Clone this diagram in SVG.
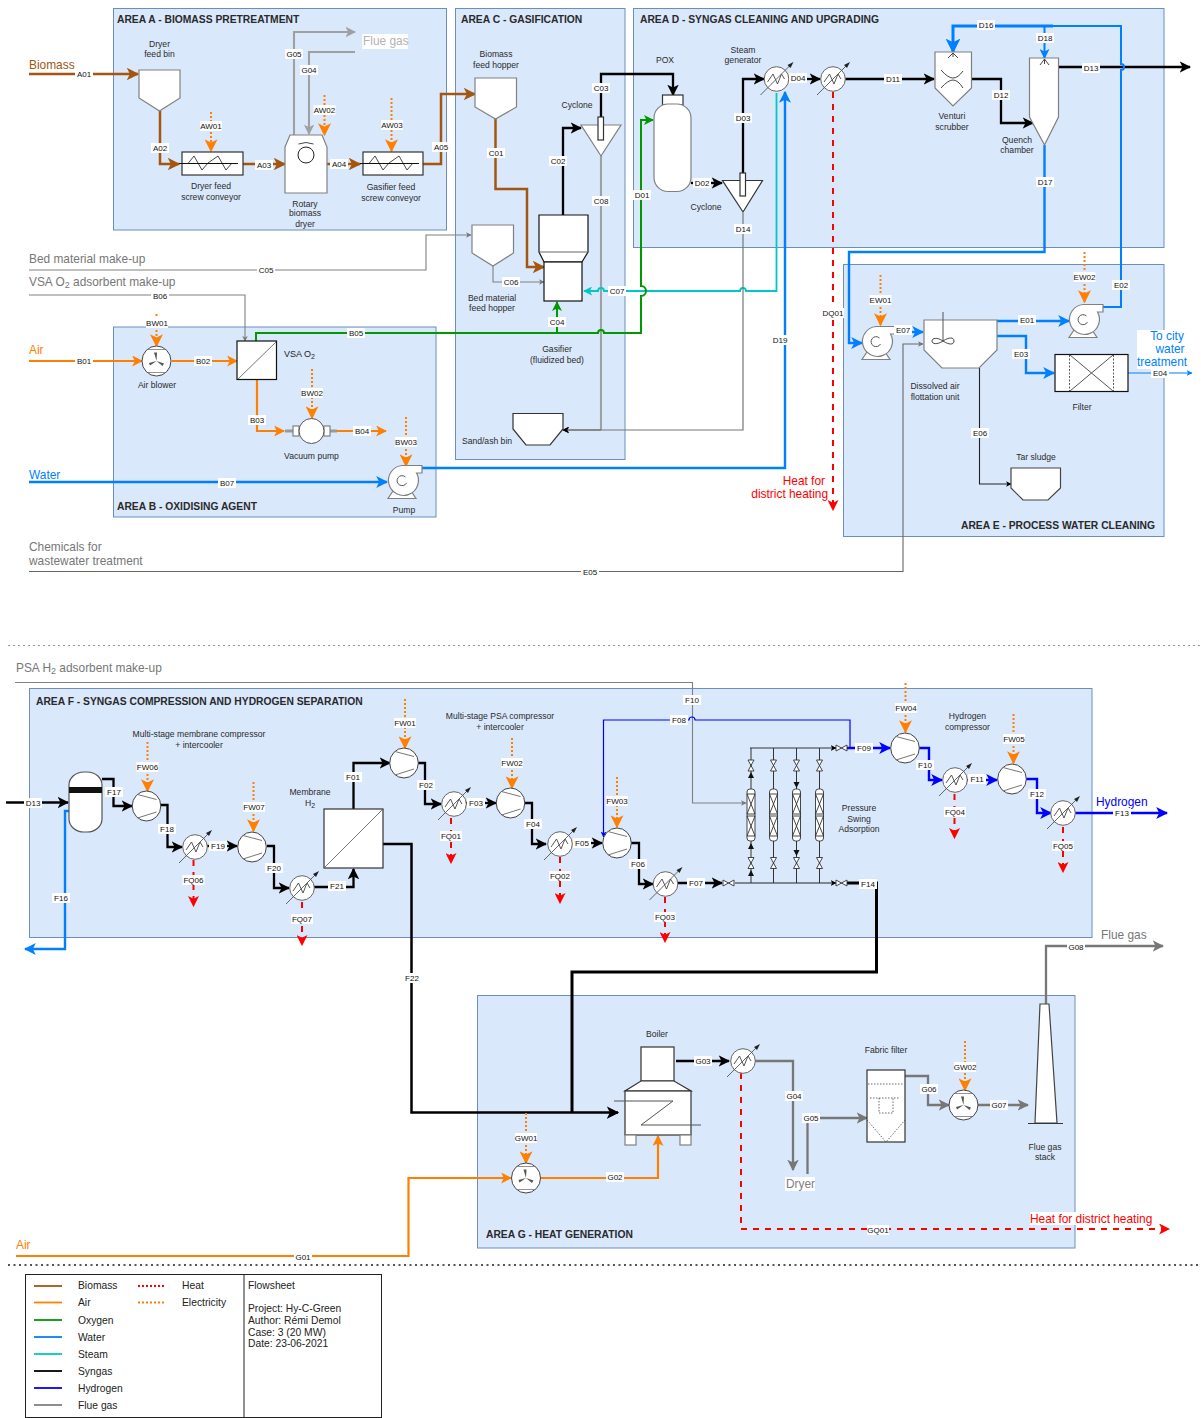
<svg xmlns="http://www.w3.org/2000/svg" width="1201" height="1418" viewBox="0 0 1201 1418">
<style>
text{font-family:"Liberation Sans",Arial,sans-serif;fill:#222}
.t{font-size:10.3px;font-weight:700;fill:#2a2a2a}
.n{font-size:8.6px;text-anchor:middle;fill:#2a2a2a}
.e{font-size:8px;text-anchor:middle;dominant-baseline:central;fill:#111}
.s{font-size:11.9px}
.lg{font-size:10.3px;fill:#222}
.area{fill:#dae8fc;stroke:#6c8ebf;stroke-width:1}
.w{fill:#fff;stroke:#808080;stroke-width:1.2}
.b{fill:#fff;stroke:#111;stroke-width:1.2}
.d{fill:none;stroke:#333;stroke-width:.9}
path.c{fill:none;stroke-linejoin:miter}
.bio{stroke:#a3560f;stroke-width:2.5;marker-end:url(#a-bio)}
.air{stroke:#ff8000;stroke-width:2.2;marker-end:url(#a-air)}
.oxy{stroke:#009900;stroke-width:2;marker-end:url(#a-oxy)}
.wat{stroke:#007fff;stroke-width:2.4;marker-end:url(#a-wat)}
.ste{stroke:#00c8c8;stroke-width:1.8;marker-end:url(#a-ste)}
.syn{stroke:#000;stroke-width:2.3;marker-end:url(#a-syn)}
.hyd{stroke:#0000ff;stroke-width:2.4;marker-end:url(#a-hyd)}
.flu{stroke:#777;stroke-width:2.3;marker-end:url(#a-flu)}
.lgy{stroke:#a0a0a0;stroke-width:2.1;marker-end:url(#a-lgy)}
.hea{stroke:#ff0000;stroke-width:2;stroke-dasharray:6 6;marker-end:url(#a-hea)}
.ele{stroke:#ff8000;stroke-width:2;stroke-dasharray:2 2;marker-end:url(#a-ele)}
.th{stroke-width:1.2}
.gt{stroke:#808080;stroke-width:1.1;marker-end:url(#a-flu)}
.gb{stroke:#808080;stroke-width:1.4;marker-end:url(#a-syn)}
.bt{stroke:#222;stroke-width:1.1;marker-end:url(#a-syn)}
.na{marker-end:none}
</style>
<defs>
<marker id="a-bio" viewBox="0 0 10 10" markerWidth="5" markerHeight="5" refX="9" refY="5" orient="auto"><path d="M0 0L10 5L0 10L2.5 5z" fill="#a3560f"/></marker>
<marker id="a-air" viewBox="0 0 10 10" markerWidth="5" markerHeight="5" refX="9" refY="5" orient="auto"><path d="M0 0L10 5L0 10L2.5 5z" fill="#ff8000"/></marker>
<marker id="a-oxy" viewBox="0 0 10 10" markerWidth="5" markerHeight="5" refX="9" refY="5" orient="auto"><path d="M0 0L10 5L0 10L2.5 5z" fill="#009900"/></marker>
<marker id="a-wat" viewBox="0 0 10 10" markerWidth="5" markerHeight="5" refX="9" refY="5" orient="auto"><path d="M0 0L10 5L0 10L2.5 5z" fill="#007fff"/></marker>
<marker id="a-ste" viewBox="0 0 10 10" markerWidth="5" markerHeight="5" refX="9" refY="5" orient="auto"><path d="M0 0L10 5L0 10L2.5 5z" fill="#00c8c8"/></marker>
<marker id="a-syn" viewBox="0 0 10 10" markerWidth="5" markerHeight="5" refX="9" refY="5" orient="auto"><path d="M0 0L10 5L0 10L2.5 5z" fill="#000"/></marker>
<marker id="a-hyd" viewBox="0 0 10 10" markerWidth="5" markerHeight="5" refX="9" refY="5" orient="auto"><path d="M0 0L10 5L0 10L2.5 5z" fill="#0000ff"/></marker>
<marker id="a-flu" viewBox="0 0 10 10" markerWidth="5" markerHeight="5" refX="9" refY="5" orient="auto"><path d="M0 0L10 5L0 10L2.5 5z" fill="#777"/></marker>
<marker id="a-lgy" viewBox="0 0 10 10" markerWidth="5" markerHeight="5" refX="9" refY="5" orient="auto"><path d="M0 0L10 5L0 10L2.5 5z" fill="#a0a0a0"/></marker>
<marker id="a-hea" viewBox="0 0 10 10" markerWidth="5.5" markerHeight="5.5" refX="9" refY="5" orient="auto"><path d="M0 0L10 5L0 10L2.5 5z" fill="#ff0000"/></marker>
<marker id="a-ele" viewBox="0 0 10 10" markerWidth="6.500" markerHeight="6.500" refX="9" refY="5" orient="auto"><path d="M0 0L10 5L0 10L2.5 5z" fill="#ff8000"/></marker>
<rect id="l" x="-9" y="-5" width="18" height="10" fill="#fff"/>
<rect id="m" x="-11" y="-5" width="22" height="10" fill="#fff"/>
<g id="hx"><circle r="12.3" fill="#fff" stroke="#666" stroke-width="1"/><path d="M-9 3L-3.500-5L1 5L5-5L8 0" fill="none" stroke="#444" stroke-width=".9"/><path d="M-16 16L15-15" stroke="#555" stroke-width=".9" fill="none"/><path d="M17-17L11-14L14-11z" fill="#222"/></g>
<g id="comp"><ellipse rx="14.300" ry="15" fill="#fff" stroke="#444" stroke-width="1"/><path d="M-9-11.500L10-6.500M-9 12L10 6" stroke="#777" stroke-width="1" fill="none"/></g>
<g id="blow"><ellipse rx="14.500" ry="15" fill="#fff" stroke="#444" stroke-width="1"/><path d="M-9-11.500L9-11.500M-9 11.500L9 11.500" stroke="#777" stroke-width=".8" fill="none"/><path d="M0 0L-2.500-8.500L.5-8.500zM0 0L7.500 2.500L6 5zM0 0L-6.500 4.500L-7.500 2z" fill="#555"/></g>
<g id="pump"><path d="M-14 17.500L14 17.500L9 10L-9 10z" class="w"/><path d="M0-15.500H20V-8H14.500A15 15 0 1 1 0-15.500z" class="w"/><path d="M3.500-4A5 5 0 1 0 4.500 2" fill="none" stroke="#555" stroke-width="1"/></g>
<g id="vv"><path d="M-3 0H3L-3 11H3z" fill="#fff" stroke="#333" stroke-width=".9"/></g>
<g id="vh"><path d="M0-3V3L11-3V3z" fill="#fff" stroke="#333" stroke-width=".9"/></g>
<g id="col"><rect x="-4" y="0" width="8" height="52" rx="3" fill="#fff" stroke="#333" stroke-width=".9"/><path d="M-4 5L4 25H-4L4 5zM-4 27L4 47H-4L4 27z" fill="none" stroke="#333" stroke-width=".9"/></g>
</defs>

<g id="areas">
<g id="area-a"><rect class="area" x="113.500" y="8.500" width="333" height="221.500"/><text class="t" x="117" y="23">AREA A - BIOMASS PRETREATMENT</text></g>
<g id="area-c"><rect class="area" x="455.500" y="8.500" width="169.500" height="451"/><text class="t" x="461" y="23">AREA C - GASIFICATION</text></g>
<g id="area-d"><rect class="area" x="633.500" y="8.500" width="530.500" height="239"/><text class="t" x="640" y="23">AREA D - SYNGAS CLEANING AND UPGRADING</text></g>
<g id="area-e"><rect class="area" x="843.500" y="264.500" width="320.500" height="272"/><text class="t" x="961" y="529">AREA E - PROCESS WATER CLEANING</text></g>
<g id="area-b"><rect class="area" x="113.500" y="327" width="322.500" height="190"/><text class="t" x="117" y="510">AREA B - OXIDISING AGENT</text></g>
<g id="area-f"><rect class="area" x="29.500" y="688.500" width="1062.500" height="249"/><text class="t" x="36" y="705">AREA F - SYNGAS COMPRESSION AND HYDROGEN SEPARATION</text></g>
<g id="area-g"><rect class="area" x="477.500" y="995.500" width="597.500" height="252.500"/><text class="t" x="486" y="1238">AREA G - HEAT GENERATION</text></g>
</g>

<path d="M8 645.500H1201" stroke="#999" stroke-width="1" stroke-dasharray="2 3" fill="none"/>
<path d="M8 1265H1201" stroke="#555" stroke-width="1.800" stroke-dasharray="2 3.500" fill="none"/>

<g id="connectors">
<path class="c bio" d="M29 74H138"/>
<path class="c bio" d="M160 111V164H179"/>
<path class="c bio" d="M243 164H285"/>
<path class="c bio" d="M327 164H360"/>
<path class="c bio" d="M423 164H441V94H475"/>
<path class="c bio" d="M495.500 119V189H527V267H544"/>
<path class="c lgy" d="M294 135V32H355"/>
<path class="c lgy" d="M355 52H309V134"/>
<path class="c ele" d="M211 112V151"/>
<path class="c ele" d="M324.500 95V135"/>
<path class="c ele" d="M391.500 98V151"/>
<path class="c syn" d="M563 215V128H581"/>
<path class="c syn" d="M601 117V74H673V95"/>
<path class="c lgy na" d="M601 156V430"/>
<path class="c gb" d="M601 430H563"/>
<path class="c gt" d="M29 270H426V235H471"/>
<path class="c gt" d="M493 266V282H544"/>
<path class="c gt" d="M29 295H245V341"/>
<path class="c ste" d="M776.500 93V291H746A3 3 0 0 0 740 291H604A3 3 0 0 0 598 291H584"/>
<path class="c oxy" d="M256 341V333H598A3 3 0 0 1 604 333H641V296A3 3 0 0 0 641 286V120H653"/>
<path class="c oxy" d="M557 333V302"/>
<path class="c air" d="M29 361H142"/>
<path class="c air" d="M172 361H237"/>
<path class="c air" d="M257 380V431H284"/>
<path class="c air" d="M331 431H386"/>
<path class="c ele" d="M156.500 314V346"/>
<path class="c ele" d="M312 369V418"/>
<path class="c ele" d="M406 417V466"/>
<path class="c wat" d="M29 482H387"/>
<path class="c wat" d="M421 468H785V92"/>
<path class="c" d="M29 571.500H903V344H923" stroke="#666" stroke-width="1.100" fill="none" marker-end="url(#a-flu)"/>
<path class="c syn" d="M691 183H722"/>
<path class="c syn" d="M743 173V79H764"/>
<path class="c gb" d="M743 213V430H563" style="stroke:#777;stroke-width:1.200"/>
<path class="c syn" d="M789 79H820"/>
<path class="c syn" d="M845 79H934"/>
<path class="c syn" d="M972 79H1001V123H1033"/>
<path class="c syn" d="M1058 67H1190"/>
<path class="c wat th" d="M1101 307H1121V70A3 3 0 0 0 1121 64V26H1053" style="marker-end:none;stroke-width:2"/>
<path class="c wat" d="M1053 26H953V52" style="stroke-width:3"/>
<path class="c wat" d="M1044.500 26V58" style="stroke-width:2"/>
<path class="c wat" d="M1044.500 145V252H849V343H862"/>
<path class="c hea" d="M833 92V510"/>
<path class="c ele" d="M880.500 275V325"/>
<path class="c ele" d="M1084.500 252V302"/>
<path class="c wat" d="M895 332H923"/>
<path class="c wat" d="M997 321H1069"/>
<path class="c wat" d="M997 336H1026V373H1054"/>
<path class="c wat th" d="M1128 373H1192"/>
<path class="c bt" d="M979.500 368V484H1011"/>

<path class="c gt" d="M15 682.500H692.500V803H746"/>
<path class="c syn" d="M6 802.500H68"/>
<path class="c wat" d="M69 811H65V949H25"/>
<path class="c syn" d="M102 779H113.500V806H132"/>
<path class="c syn" d="M160 805H167.500V847H182"/>
<path class="c syn" d="M207 846H237"/>
<path class="c syn" d="M267 846H274V888H289"/>
<path class="c syn" d="M314 887H353.500V869"/>
<path class="c syn" d="M353.500 809V763H390"/>
<path class="c syn" d="M418 763H425V804H441"/>
<path class="c syn" d="M466 803H496"/>
<path class="c syn" d="M524 803H532V844H546"/>
<path class="c syn" d="M573 843H602"/>
<path class="c syn" d="M631 843H639V884H653"/>
<path class="c syn" d="M678 883H722"/>
<path class="c" d="M735 883H836" stroke="#222" stroke-width="1.200" fill="none" marker-end="url(#a-syn)"/>
<path class="c syn na" d="M847 883H876.500V972H572V1112" style="stroke-width:3"/>
<path class="c syn" d="M383 844H411.500V1112.500H618" style="stroke-width:2.500"/>
<path d="M751 748V883M773.500 748V883M796.500 748V883M819.500 748V883" stroke="#333" stroke-width="1" fill="none"/>
<path class="c" d="M750 748H836" stroke="#333" stroke-width="1.200" fill="none" marker-end="url(#a-syn)"/>
<path class="c hyd th" d="M850 748V720H695A3 3 0 0 0 689 720H603.500V837"/>
<path class="c hyd" d="M847 748H890"/>
<path class="c hyd" d="M919 748H929V780H942"/>
<path class="c hyd" d="M967 780H997"/>
<path class="c hyd" d="M1026 779H1037V813H1051"/>
<path class="c hyd" d="M1075 813H1167"/>
<path class="c ele" d="M147.500 742V791"/>
<path class="c ele" d="M253.500 782V831"/>
<path class="c ele" d="M405 699V748"/>
<path class="c ele" d="M512 738V788"/>
<path class="c ele" d="M617 777V827"/>
<path class="c ele" d="M905.500 683V732"/>
<path class="c ele" d="M1013.500 714V763"/>
<path class="c hea" d="M193.500 860V906"/>
<path class="c hea" d="M302 902V945"/>
<path class="c hea" d="M451 818V863"/>
<path class="c hea" d="M560 857V903"/>
<path class="c hea" d="M665 897V942"/>
<path class="c hea" d="M954.500 794V838"/>
<path class="c hea" d="M1063 827V872"/>

<path class="c flu" d="M1046 1005V946H1163"/>
<path class="c syn" d="M676 1061H729"/>
<path class="c flu" d="M755 1061H793V1170"/>
<path class="c flu" d="M807.500 1174V1118H867"/>
<path class="c flu" d="M905 1076H928V1105H949"/>
<path class="c flu" d="M978 1105H1028"/>
<path class="c air" d="M16 1256H408.500V1178H511"/>
<path class="c air" d="M540 1178H658V1136"/>
<path class="c ele" d="M526 1113V1163"/>
<path class="c ele" d="M965 1041V1090"/>
<path class="c hea" d="M741 1073V1229H1169"/>
</g>

<g id="biomass-feed-bin"><polygon class="w" points="139,70 180,70 180,98 159.500,111 139,98"/><text class="n"><tspan x="159.500" y="47">Dryer</tspan><tspan x="159.500" y="57">feed bin</tspan></text></g>
<g id="dryer-screw"><rect class="b" x="182" y="152" width="61" height="23" style="stroke:#333"/><path d="M188 163.500L194 156L202 170L208 163L218 156L226 170L232 163" class="d"/><path d="M179 163.500H238" stroke="#111" stroke-width="1"/><text class="n"><tspan x="211" y="189">Dryer feed</tspan><tspan x="211" y="200">screw conveyor</tspan></text></g>
<g id="rotary-dryer"><path class="w" d="M285 147L290 135H322L327 147V193H285z"/><circle cx="306" cy="155" r="8" fill="#fff" stroke="#222"/><path d="M298.500 144Q306 141 313.500 144" class="d"/><text class="n"><tspan x="305" y="207">Rotary</tspan><tspan x="305" y="216">biomass</tspan><tspan x="305" y="227">dryer</tspan></text></g>
<g id="gasifier-screw"><rect class="b" x="363" y="152" width="60" height="23" style="stroke:#333"/><path d="M369 163.500L375 156L383 170L389 163L399 156L407 170L413 163" class="d"/><path d="M360 163.500H419" stroke="#111" stroke-width="1"/><text class="n"><tspan x="391" y="190">Gasifier feed</tspan><tspan x="391" y="201">screw conveyor</tspan></text></g>
<g id="flue-gas-a"><rect x="362" y="34" width="46" height="15" fill="#fff"/><text class="s" x="363" y="45" style="fill:#b3b3b3">Flue gas</text></g>

<g id="biomass-hopper"><polygon class="w" points="475,78 516.500,78 516.500,107 495.500,119 475,107"/><text class="n"><tspan x="496" y="57">Biomass</tspan><tspan x="496" y="68">feed hopper</tspan></text></g>
<g id="bed-hopper"><polygon class="w" points="472,225 513.500,225 513.500,253 493,266 472,253"/><text class="n"><tspan x="492" y="301">Bed material</tspan><tspan x="492" y="311">feed hopper</tspan></text></g>
<g id="cyclone-c"><polygon class="w" points="581,125 621,125 601,156"/><rect class="b" x="598" y="117" width="5.500" height="23" style="stroke:#333"/><text class="n" x="577" y="108">Cyclone</text></g>
<g id="gasifier"><path class="b" d="M539 215H588V252L582 262H544L539 252z"/><path d="M539 252H588" stroke="#666" stroke-width="1"/><rect class="b" x="544" y="262" width="38" height="39"/><text class="n"><tspan x="557" y="352">Gasifier</tspan><tspan x="557" y="363">(fluidized bed)</tspan></text></g>
<g id="sand-bin"><polygon class="w" points="513,413.500 563,413.500 563,429 550,445 526,445 513,429" style="stroke:#333"/><text class="n" x="487" y="444">Sand/ash bin</text></g>
<g id="stream-labels-top">
<text class="s" x="29" y="69" style="fill:#a3560f">Biomass</text>
<text class="s" x="29" y="263" style="fill:#777">Bed material make-up</text>
<text class="s" x="29" y="286" style="fill:#777">VSA O<tspan dy="2" font-size="9" style="fill:#777">2</tspan><tspan dy="-2" style="fill:#777"> adsorbent make-up</tspan></text>
<text class="s" x="29" y="354" style="fill:#ff8000">Air</text>
<text class="s" x="29" y="479" style="fill:#007fff">Water</text>
<text class="s" style="fill:#777"><tspan x="29" y="551">Chemicals for</tspan><tspan x="29" y="564.500">wastewater treatment</tspan></text>
<text class="s" style="fill:#ff0000;text-anchor:end"><tspan x="825" y="485">Heat for</tspan><tspan x="828" y="498">district heating</tspan></text>
</g>

<g id="air-blower-b"><use href="#blow" x="156.500" y="361"/><text class="n" x="157" y="388">Air blower</text></g>
<g id="vsa"><rect class="b" x="237" y="341" width="39.500" height="38.500"/><path d="M238 379L276 342" stroke="#777" stroke-width="1"/><text class="s" x="284" y="357" style="font-size:9px">VSA O<tspan dy="2" font-size="7">2</tspan></text></g>
<g id="vacuum-pump"><path d="M285 431H297M326 431H337" stroke="#999" stroke-width="3"/><rect x="293" y="426" width="6" height="10" class="w"/><rect x="324" y="426" width="6" height="10" class="w"/><circle cx="311.500" cy="431" r="12.500" fill="#fff" stroke="#555"/><text class="n" x="311.500" y="459">Vacuum pump</text></g>
<g id="pump-b"><use href="#pump" x="402" y="481"/><text class="n" x="404" y="513">Pump</text></g>

<g id="pox"><rect class="w" x="662.500" y="95" width="20.500" height="10" style="stroke:#333"/><rect class="w" x="654" y="104" width="37" height="87.500" rx="14" ry="14"/><text class="n" x="665" y="63">POX</text></g>
<g id="cyclone-d"><polygon class="w" points="722.500,180.500 762.500,180.500 743,212" style="stroke:#333"/><rect class="b" x="740" y="173" width="5.500" height="23" style="stroke:#333"/><text class="n" x="706" y="210">Cyclone</text></g>
<g id="steam-gen"><use href="#hx" x="776.500" y="79"/><text class="n"><tspan x="743" y="53">Steam</tspan><tspan x="743" y="63">generator</tspan></text></g>
<g id="hx-d"><use href="#hx" x="833" y="79"/></g>
<g id="venturi"><polygon class="w" points="935,52 971.500,52 971.500,88 953,106 935,88"/><path d="M941 70Q948 78 953 78T963 71M941 88Q948 80 953 80T963 88" class="d"/><path d="M948 58L953 53L958 58M953 53V57" class="d"/><text class="n"><tspan x="952" y="119">Venturi</tspan><tspan x="952" y="130">scrubber</tspan></text></g>
<g id="quench"><polygon class="w" points="1029.500,58 1058.500,58 1058.500,117 1044.500,145 1029.500,117"/><path d="M1040 65L1044.500 59L1049 65M1044.500 59V64" class="d"/><text class="n"><tspan x="1017" y="143">Quench</tspan><tspan x="1017" y="153">chamber</tspan></text></g>

<g id="pump-e1"><use href="#pump" x="876" y="342"/></g>
<g id="pump-e2"><use href="#pump" x="1083" y="320"/></g>
<g id="daf"><polygon class="w" points="924,320 997,320 997,350 979,368 942,368 924,350"/><path d="M943 312V341" stroke="#555"/><path d="M943 341C937 337 932 338 932 341S937 345 943 341S954 337 954 341S949 345 943 341z" class="d"/><text class="n"><tspan x="935" y="389">Dissolved air</tspan><tspan x="935" y="400">flottation unit</tspan></text></g>
<g id="filter-e"><rect class="b" x="1055" y="354.500" width="73" height="37"/><path d="M1069.500 355V391M1113.500 355V391" stroke="#333" stroke-width=".8" stroke-dasharray="2 1.500"/><path d="M1070 355L1113 391M1113 355L1070 391" stroke="#555" stroke-width="1"/><text class="n" x="1082" y="410">Filter</text></g>
<g id="tar-sludge"><polygon class="w" points="1011,468 1060.500,468 1060.500,488 1048,500 1023,500 1011,488" style="stroke:#444"/><text class="n" x="1036" y="460">Tar sludge</text></g>
<g id="to-city"><rect x="1137" y="330" width="50" height="39" fill="#fff"/><text class="s" style="fill:#007fff;text-anchor:middle"><tspan x="1167" y="340">To city</tspan><tspan x="1170" y="353">water</tspan><tspan x="1162" y="366">treatment</tspan></text></g>

<g id="psa-makeup"><text class="s" x="16" y="672" style="fill:#777">PSA H<tspan dy="2" font-size="9" style="fill:#777">2</tspan><tspan dy="-2" style="fill:#777"> adsorbent make-up</tspan></text></g>
<g id="scrubber-f"><rect class="b" x="69" y="772" width="33" height="60" rx="15" ry="13" style="stroke:#555"/><rect x="69" y="787" width="33" height="6" fill="#111"/></g>
<g id="comp-f1"><use href="#comp" x="146.500" y="806"/><text class="n"><tspan x="199" y="737">Multi-stage membrane compressor</tspan><tspan x="199" y="748">+ intercooler</tspan></text></g>
<g id="hx-f1"><use href="#hx" x="195" y="847"/></g>
<g id="comp-f2"><use href="#comp" x="252" y="847"/></g>
<g id="hx-f2"><use href="#hx" x="302" y="888"/></g>
<g id="membrane"><rect class="b" x="324" y="809" width="59" height="59" style="stroke:#333"/><path d="M325 867L382 810" stroke="#777"/><text class="n"><tspan x="310" y="795">Membrane</tspan><tspan x="310" y="806">H<tspan dy="2" font-size="7">2</tspan></tspan></text></g>
<g id="comp-f3"><use href="#comp" x="404" y="763"/></g>
<g id="hx-f3"><use href="#hx" x="454" y="804"/></g>
<g id="comp-f4"><use href="#comp" x="510.500" y="803"/><text class="n"><tspan x="500" y="719">Multi-stage PSA compressor</tspan><tspan x="500" y="730">+ intercooler</tspan></text></g>
<g id="hx-f4"><use href="#hx" x="560" y="844"/></g>
<g id="comp-f5"><use href="#comp" x="617" y="843"/></g>
<g id="hx-f5"><use href="#hx" x="665.500" y="884"/></g>
<g id="psa">
<use href="#col" x="751" y="789"/><use href="#col" x="773.500" y="789"/><use href="#col" x="796.500" y="789"/><use href="#col" x="819.500" y="789"/>
<use href="#vv" x="751" y="760"/><use href="#vv" x="773.500" y="760"/><use href="#vv" x="796.500" y="760"/><use href="#vv" x="819.500" y="760"/>
<use href="#vv" x="751" y="857.500"/><use href="#vv" x="773.500" y="857.500"/><use href="#vv" x="796.500" y="857.500"/><use href="#vv" x="819.500" y="857.500"/>
<path d="M751 772L748 778H754zM751 843L748 849H754zM751 870L748 876H754zM796.500 788L793.500 782H799.500zM796.500 856L793.500 850H799.500z" fill="#111"/>
<use href="#vh" x="723" y="883"/><use href="#vh" x="836" y="883"/><use href="#vh" x="836" y="748"/>
<text class="n"><tspan x="859" y="811">Pressure</tspan><tspan x="859" y="822">Swing</tspan><tspan x="859" y="832">Adsorption</tspan></text></g>
<g id="comp-f6"><use href="#comp" x="905" y="748"/><text class="n"><tspan x="967.500" y="719">Hydrogen</tspan><tspan x="967.500" y="730">compressor</tspan></text></g>
<g id="hx-f6"><use href="#hx" x="955" y="780"/></g>
<g id="comp-f7"><use href="#comp" x="1012" y="779"/></g>
<g id="hx-f7"><use href="#hx" x="1063" y="813"/></g>
<text class="s" x="1096" y="806" style="fill:#0000ff">Hydrogen</text>
<text class="s" x="1101" y="939" style="fill:#777">Flue gas</text>

<g id="boiler"><rect class="w" x="641" y="1047" width="33" height="34" style="stroke:#333"/><path class="w" d="M641 1081H674L691 1091H625z" style="stroke:#333"/><rect class="w" x="625" y="1091" width="66" height="44" style="stroke:#333"/><rect class="w" x="625" y="1135" width="11" height="10"/><rect class="w" x="680" y="1135" width="11" height="10"/><path d="M614 1101H673L641 1125H701" fill="none" stroke="#555" stroke-width="1"/><text class="n" x="657" y="1037">Boiler</text></g>
<g id="hx-g"><use href="#hx" x="743" y="1061"/></g>
<g id="fabric-filter"><rect class="b" x="867" y="1070" width="38" height="72" style="stroke:#333"/><path d="M868 1084H904M870 1098H900M879 1098V1113H893V1098M867 1120L886 1142L905 1120" fill="none" stroke="#444" stroke-width=".8" stroke-dasharray="1.500 1.500"/><text class="n" x="886" y="1053">Fabric filter</text></g>
<g id="blower-g2"><use href="#blow" x="963.500" y="1105"/></g>
<g id="stack"><polygon class="w" points="1040,1004 1049,1004 1057,1123 1035,1123" style="stroke:#444"/><path d="M1028 1123.500H1063" stroke="#333" stroke-width="1.200"/><text class="n"><tspan x="1045" y="1150">Flue gas</tspan><tspan x="1045" y="1160">stack</tspan></text></g>
<g id="blower-g1"><use href="#blow" x="526" y="1178"/></g>
<g id="dryer-out"><rect x="785" y="1177" width="30" height="14" fill="#fff"/><text class="s" x="786" y="1188" style="fill:#808080">Dryer</text></g>
<g id="heat-g"><rect x="1030" y="1212" width="123" height="13" fill="#fff"/><text class="s" x="1030" y="1223" style="fill:#ff0000">Heat for district heating</text></g>
<text class="s" x="16" y="1249" style="fill:#ff8000">Air</text>

<g id="edge-labels">
<use href="#l" x="84" y="74"/><text class="e" x="84" y="74">A01</text>
<use href="#l" x="160" y="148"/><text class="e" x="160" y="148">A02</text>
<use href="#l" x="264" y="165"/><text class="e" x="264" y="165">A03</text>
<use href="#l" x="339" y="164"/><text class="e" x="339" y="164">A04</text>
<use href="#l" x="441" y="147"/><text class="e" x="441" y="147">A05</text>
<use href="#m" x="211" y="126"/><text class="e" x="211" y="126">AW01</text>
<use href="#m" x="324.500" y="110"/><text class="e" x="324.500" y="110">AW02</text>
<use href="#m" x="392" y="125"/><text class="e" x="392" y="125">AW03</text>
<use href="#l" x="294" y="54"/><text class="e" x="294" y="54">G05</text>
<use href="#l" x="309" y="70"/><text class="e" x="309" y="70">G04</text>
<use href="#l" x="496" y="153"/><text class="e" x="496" y="153">C01</text>
<use href="#l" x="558" y="161"/><text class="e" x="558" y="161">C02</text>
<use href="#l" x="601" y="88"/><text class="e" x="601" y="88">C03</text>
<use href="#l" x="557" y="322"/><text class="e" x="557" y="322">C04</text>
<use href="#l" x="266" y="270"/><text class="e" x="266" y="270">C05</text>
<use href="#l" x="511" y="282"/><text class="e" x="511" y="282">C06</text>
<use href="#l" x="617" y="291"/><text class="e" x="617" y="291">C07</text>
<use href="#l" x="601" y="201"/><text class="e" x="601" y="201">C08</text>
<use href="#l" x="160" y="296"/><text class="e" x="160" y="296">B06</text>
<use href="#l" x="84" y="361"/><text class="e" x="84" y="361">B01</text>
<use href="#l" x="203" y="361"/><text class="e" x="203" y="361">B02</text>
<use href="#l" x="257" y="420"/><text class="e" x="257" y="420">B03</text>
<use href="#l" x="362" y="431"/><text class="e" x="362" y="431">B04</text>
<use href="#l" x="356" y="333"/><text class="e" x="356" y="333">B05</text>
<use href="#l" x="227" y="483"/><text class="e" x="227" y="483">B07</text>
<use href="#m" x="157" y="323"/><text class="e" x="157" y="323">BW01</text>
<use href="#m" x="312" y="393"/><text class="e" x="312" y="393">BW02</text>
<use href="#m" x="406" y="442"/><text class="e" x="406" y="442">BW03</text>
<use href="#l" x="642" y="195"/><text class="e" x="642" y="195">D01</text>
<use href="#l" x="702" y="183"/><text class="e" x="702" y="183">D02</text>
<use href="#l" x="743" y="118"/><text class="e" x="743" y="118">D03</text>
<use href="#l" x="798" y="78"/><text class="e" x="798" y="78">D04</text>
<use href="#l" x="893" y="79"/><text class="e" x="893" y="79">D11</text>
<use href="#l" x="1001" y="95"/><text class="e" x="1001" y="95">D12</text>
<use href="#l" x="1091" y="68"/><text class="e" x="1091" y="68">D13</text>
<use href="#l" x="743" y="229"/><text class="e" x="743" y="229">D14</text>
<use href="#l" x="986" y="25"/><text class="e" x="986" y="25">D16</text>
<use href="#l" x="1045" y="182"/><text class="e" x="1045" y="182">D17</text>
<use href="#l" x="1045" y="38"/><text class="e" x="1045" y="38">D18</text>
<use href="#l" x="780" y="340"/><text class="e" x="780" y="340">D19</text>
<use href="#m" x="833" y="313"/><text class="e" x="833" y="313">DQ01</text>
<use href="#l" x="1027" y="320"/><text class="e" x="1027" y="320">E01</text>
<use href="#l" x="1121" y="285"/><text class="e" x="1121" y="285">E02</text>
<use href="#l" x="1021" y="354"/><text class="e" x="1021" y="354">E03</text>
<use href="#l" x="1160" y="373"/><text class="e" x="1160" y="373">E04</text>
<use href="#l" x="590" y="572"/><text class="e" x="590" y="572">E05</text>
<use href="#l" x="980" y="433"/><text class="e" x="980" y="433">E06</text>
<use href="#l" x="903" y="330"/><text class="e" x="903" y="330">E07</text>
<use href="#m" x="880.500" y="300"/><text class="e" x="880.500" y="300">EW01</text>
<use href="#m" x="1084.500" y="277"/><text class="e" x="1084.500" y="277">EW02</text>
<use href="#l" x="33" y="803"/><text class="e" x="33" y="803">D13</text>
<use href="#l" x="61" y="898"/><text class="e" x="61" y="898">F16</text>
<use href="#l" x="114" y="792"/><text class="e" x="114" y="792">F17</text>
<use href="#l" x="167" y="829"/><text class="e" x="167" y="829">F18</text>
<use href="#l" x="218" y="846"/><text class="e" x="218" y="846">F19</text>
<use href="#l" x="274" y="868"/><text class="e" x="274" y="868">F20</text>
<use href="#l" x="337" y="886"/><text class="e" x="337" y="886">F21</text>
<use href="#l" x="353" y="777"/><text class="e" x="353" y="777">F01</text>
<use href="#l" x="426" y="785"/><text class="e" x="426" y="785">F02</text>
<use href="#l" x="476" y="803"/><text class="e" x="476" y="803">F03</text>
<use href="#l" x="533" y="824"/><text class="e" x="533" y="824">F04</text>
<use href="#l" x="582" y="843"/><text class="e" x="582" y="843">F05</text>
<use href="#l" x="638" y="864"/><text class="e" x="638" y="864">F06</text>
<use href="#l" x="696" y="883"/><text class="e" x="696" y="883">F07</text>
<use href="#l" x="679" y="720"/><text class="e" x="679" y="720">F08</text>
<use href="#l" x="864" y="748"/><text class="e" x="864" y="748">F09</text>
<use href="#l" x="692" y="700"/><text class="e" x="692" y="700">F10</text>
<use href="#l" x="925" y="765"/><text class="e" x="925" y="765">F10</text>
<use href="#l" x="977" y="779"/><text class="e" x="977" y="779">F11</text>
<use href="#l" x="1037" y="794"/><text class="e" x="1037" y="794">F12</text>
<use href="#l" x="1122" y="813"/><text class="e" x="1122" y="813">F13</text>
<use href="#l" x="868" y="884"/><text class="e" x="868" y="884">F14</text>
<use href="#l" x="412" y="978"/><text class="e" x="412" y="978">F22</text>
<use href="#m" x="147.500" y="767"/><text class="e" x="147.500" y="767">FW06</text>
<use href="#m" x="254" y="807"/><text class="e" x="254" y="807">FW07</text>
<use href="#m" x="405" y="723"/><text class="e" x="405" y="723">FW01</text>
<use href="#m" x="512" y="763"/><text class="e" x="512" y="763">FW02</text>
<use href="#m" x="617" y="801"/><text class="e" x="617" y="801">FW03</text>
<use href="#m" x="906" y="708"/><text class="e" x="906" y="708">FW04</text>
<use href="#m" x="1014" y="739"/><text class="e" x="1014" y="739">FW05</text>
<use href="#m" x="193.500" y="880"/><text class="e" x="193.500" y="880">FQ06</text>
<use href="#m" x="302" y="919"/><text class="e" x="302" y="919">FQ07</text>
<use href="#m" x="451" y="836"/><text class="e" x="451" y="836">FQ01</text>
<use href="#m" x="560" y="876"/><text class="e" x="560" y="876">FQ02</text>
<use href="#m" x="665" y="917"/><text class="e" x="665" y="917">FQ03</text>
<use href="#m" x="955" y="812"/><text class="e" x="955" y="812">FQ04</text>
<use href="#m" x="1063" y="846"/><text class="e" x="1063" y="846">FQ05</text>
<use href="#l" x="303" y="1257"/><text class="e" x="303" y="1257">G01</text>
<use href="#l" x="615" y="1177"/><text class="e" x="615" y="1177">G02</text>
<use href="#l" x="703" y="1061"/><text class="e" x="703" y="1061">G03</text>
<use href="#l" x="794" y="1096"/><text class="e" x="794" y="1096">G04</text>
<use href="#l" x="811" y="1118"/><text class="e" x="811" y="1118">G05</text>
<use href="#l" x="929" y="1089"/><text class="e" x="929" y="1089">G06</text>
<use href="#l" x="999" y="1105"/><text class="e" x="999" y="1105">G07</text>
<use href="#l" x="1076" y="947"/><text class="e" x="1076" y="947">G08</text>
<use href="#m" x="526" y="1138"/><text class="e" x="526" y="1138">GW01</text>
<use href="#m" x="965" y="1067"/><text class="e" x="965" y="1067">GW02</text>
<use href="#m" x="878" y="1230"/><text class="e" x="878" y="1230">GQ01</text>
</g>

<g id="legend">
<rect x="25.500" y="1274.500" width="356" height="143" fill="#fff" stroke="#222" stroke-width="1"/>
<path d="M244 1274.500V1417.500" stroke="#222" stroke-width="1"/>
<g stroke-width="1.800" fill="none">
<path d="M34 1286H62" stroke="#a3560f"/><path d="M34 1302.500H62" stroke="#ff8000"/><path d="M34 1320H62" stroke="#009900"/><path d="M34 1337H62" stroke="#007fff"/><path d="M34 1354H62" stroke="#00c8c8"/><path d="M34 1371H62" stroke="#000"/><path d="M34 1388H62" stroke="#0000ff"/><path d="M34 1405H62" stroke="#808080"/>
<path d="M138 1286H166" stroke="#ff0000" stroke-dasharray="2 2"/><path d="M138 1302.500H166" stroke="#ff8000" stroke-dasharray="2 2"/>
</g>
<text class="lg" x="78" y="1289">Biomass</text><text class="lg" x="78" y="1306">Air</text><text class="lg" x="78" y="1323.500">Oxygen</text><text class="lg" x="78" y="1341">Water</text><text class="lg" x="78" y="1358">Steam</text><text class="lg" x="78" y="1375">Syngas</text><text class="lg" x="78" y="1392">Hydrogen</text><text class="lg" x="78" y="1409">Flue gas</text>
<text class="lg" x="182" y="1289">Heat</text><text class="lg" x="182" y="1306">Electricity</text>
<text class="lg" x="248" y="1289">Flowsheet</text>
<text class="lg" x="248" y="1312">Project: Hy-C-Green</text><text class="lg" x="248" y="1323.500">Author: Rémi Demol</text><text class="lg" x="248" y="1335.500">Case: 3 (20 MW)</text><text class="lg" x="248" y="1347">Date: 23-06-2021</text>
</g>
</svg>
